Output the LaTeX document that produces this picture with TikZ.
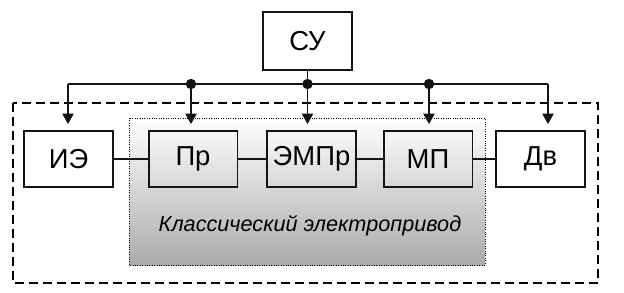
\documentclass[tikz,border=0pt]{standalone}
\usepackage{fontspec}
\setmainfont{Liberation Sans}
\usetikzlibrary{positioning,arrows.meta,backgrounds}
\definecolor{blockborder}{RGB}{20,20,20}
\definecolor{shadebottom}{RGB}{170,170,170}

\begin{document}
\begin{tikzpicture}[
                x=0.025cm, y=-0.025cm,
                >={Triangle[length=2.6mm, width=2.8mm]},
                block/.style={rectangle, draw=blockborder, line width=1.3pt, minimum width=2.22cm, minimum height=1.4cm, inner sep=0pt, font=\fontsize{19.5}{22}\selectfont},
                link/.style={draw=blockborder, line width=1.3pt},
                arrow/.style={->, draw=blockborder, line width=1.1pt, shorten >=1.5mm},
                junction/.style={circle, fill=blockborder, inner sep=0pt, minimum size=2.6mm}
                ]
                \useasboundingbox (0,0) rectangle (624,292);

                % frames
                \draw[line width=1.6pt, dash pattern=on 2.2mm off 1.3mm] (13,103) rectangle (598,283);
                \shade[top color=white, bottom color=shadebottom] (129,118) rectangle (485,265);
                \draw[densely dotted, line width=0.7pt] (129,118) rectangle (485,265);
                \node[font=\itshape\fontsize{15.4}{18}\selectfont] (caption) at (310,226) {Классический электропривод};

                \node[block, minimum height=1.45cm] (su) at (307.5,41) {СУ};
                \node[block] (ie) at (68.5,159) {ИЭ};
                \node[block] (pr) at (193,159) {Пр};
                \node[block] (empr) at (311.5,159) {ЭМПр};
                \node[block] (mp) at (428,159) {МП};
                \node[block] (dv) at (540.5,159) {Дв};

                % bus from the control unit
                \coordinate (busl) at (68,84);
                \coordinate (busr) at (548,84);
                \node[junction] (j1) at (191,84) {};
                \node[junction] (j2) at (su.south |- busl) {};
                \node[junction] (j3) at (429,84) {};

                \draw[link] (su.south) -- (j2.center);
                \draw[link, line width=1.1pt] (busl) -- (busr);
                \draw[arrow] (busl) -- (busl |- ie.north);
                \draw[arrow] (j1.center) -- (j1 |- pr.north);
                \draw[arrow] (j2.center) -- (j2 |- empr.north);
                \draw[arrow] (j3.center) -- (j3 |- mp.north);
                \draw[arrow] (busr) -- (busr |- dv.north);

                \draw[link] (ie.east) -- (pr.west);
                \draw[link] (pr.east) -- (empr.west);
                \draw[link] (empr.east) -- (mp.west);
                \draw[link] (mp.east) -- (dv.west);
            \end{tikzpicture}
\end{document}
